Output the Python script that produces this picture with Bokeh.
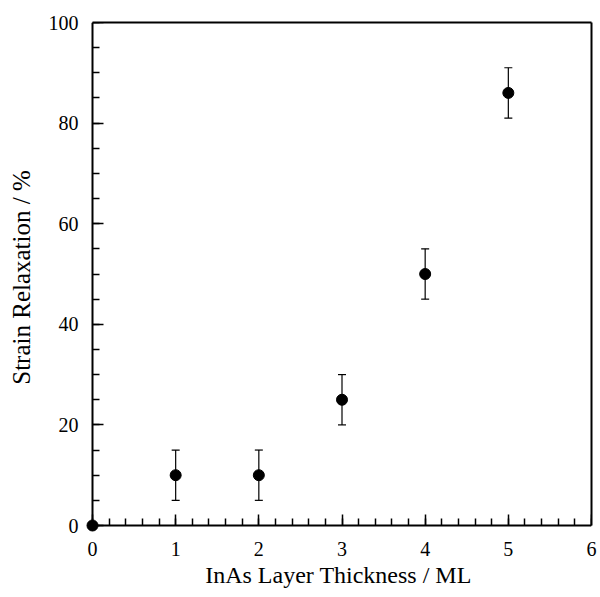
from bokeh.plotting import figure
from bokeh.models import Whisker, ColumnDataSource, FixedTicker, Range1d, LinearAxis
from bokeh.embed import file_html
from bokeh.resources import INLINE

thickness = [0, 1, 2, 3, 4, 5]
relaxation = [0, 10, 10, 25, 50, 86]
err = [0, 5, 5, 5, 5, 5]

upper = [r + e for r, e in zip(relaxation, err)]
lower = [r - e for r, e in zip(relaxation, err)]

x_major = [0, 1, 2, 3, 4, 5, 6]
y_major = [0, 20, 40, 60, 80, 100]
x_minor = [i * 0.2 for i in range(31)]
y_minor = list(range(0, 101, 5))
x_lim = (0, 6)
y_lim = (0, 100)

src = ColumnDataSource(dict(x=thickness, y=relaxation))
esrc = ColumnDataSource(dict(x=thickness[1:], up=upper[1:], lo=lower[1:]))

# frame extends a few pixels left/below the axes so the dot at the origin is not clipped
pad = 7
fw, fh = 499, 503
dx = pad * (x_lim[1] - x_lim[0]) / fw
dy = pad * (y_lim[1] - y_lim[0]) / fh

p = figure(output_backend="svg", toolbar_location=None,
           frame_width=fw + pad, frame_height=fh + pad,
           x_range=Range1d(x_lim[0] - dx, x_lim[1]), y_range=Range1d(y_lim[0] - dy, y_lim[1]),
           min_border_left=92 - pad, min_border_top=22, min_border_right=8, min_border_bottom=0)
p.background_fill_color = "white"
p.border_fill_color = "white"
p.grid.visible = False
p.outline_line_color = None

font = "Liberation Serif"
# default axes: labels only (they sit in the side panels, unclipped)
for ax in (p.xaxis[0], p.yaxis[0]):
    ax.axis_line_color = None
    ax.major_tick_line_color = None
    ax.minor_tick_line_color = None
    ax.major_tick_in = 0
    ax.major_tick_out = 0
    ax.minor_tick_in = 0
    ax.minor_tick_out = 0
    ax.major_label_text_font = font
    ax.major_label_text_font_size = "20px"
    ax.axis_label_text_font = font
    ax.axis_label_text_font_style = "normal"
    ax.major_label_text_color = "black"
    ax.axis_label_text_color = "black"
p.xaxis[0].ticker = FixedTicker(ticks=x_major)
p.yaxis[0].ticker = FixedTicker(ticks=y_major)
p.xaxis[0].axis_label = "InAs Layer Thickness / ML"
p.yaxis[0].axis_label = "Strain Relaxation / %"
p.xaxis[0].axis_label_text_font_size = "24px"
p.yaxis[0].axis_label_text_font_size = "25px"
p.xaxis[0].major_label_standoff = 16 - pad
p.yaxis[0].major_label_standoff = 14 - pad
p.xaxis[0].axis_label_standoff = 3
p.yaxis[0].axis_label_standoff = 11

# axis lines with inward ticks placed at the data origin (tick marks only, no labels)
for loc, fixed, bnds, maj, mnr in (("below", y_lim[0], x_lim, x_major, x_minor),
                                   ("left", x_lim[0], y_lim, y_major, y_minor)):
    a = LinearAxis(ticker=FixedTicker(ticks=[], minor_ticks=mnr), bounds=bnds,
                   fixed_location=fixed,
                   axis_line_width=2, axis_line_color="black",
                   major_tick_in=0, major_tick_out=0, minor_tick_in=7, minor_tick_out=0,
                   minor_tick_line_width=1.5)
    p.add_layout(a, loc)
    b = LinearAxis(ticker=FixedTicker(ticks=[], minor_ticks=maj), bounds=bnds,
                   fixed_location=fixed, axis_line_color=None,
                   major_tick_in=0, major_tick_out=0, minor_tick_in=11, minor_tick_out=0,
                   minor_tick_line_width=1.5)
    p.add_layout(b, loc)

# plain top and right frame lines
for loc, bnds in (("above", x_lim), ("right", y_lim)):
    a = LinearAxis(ticker=FixedTicker(ticks=[]), bounds=bnds,
                   axis_line_width=2, axis_line_color="black",
                   major_tick_in=0, major_tick_out=0, minor_tick_in=0, minor_tick_out=0)
    p.add_layout(a, loc)

w = Whisker(base="x", upper="up", lower="lo", source=esrc, dimension="height",
            line_color="black", line_width=1.2)
w.upper_head.size = 8
w.lower_head.size = 8
w.upper_head.line_width = 1.2
w.lower_head.line_width = 1.2
p.add_layout(w)

p.scatter("x", "y", source=src, size=11, color="black")

open("out.html", "w").write(file_html(p, INLINE))
